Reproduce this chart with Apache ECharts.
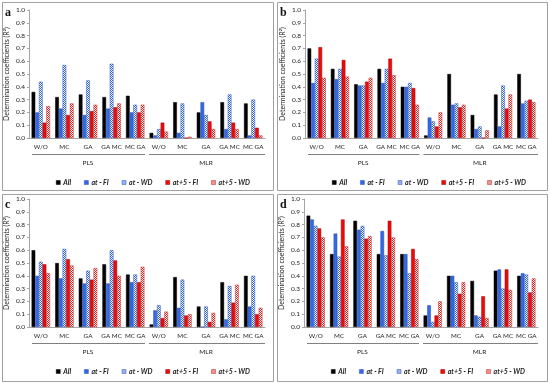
<!DOCTYPE html>
<html>
<head>
<meta charset="utf-8">
<script src="https://cdn.jsdelivr.net/npm/echarts@6/dist/echarts.min.js"></script>
<style>html,body{margin:0;padding:0;background:#fff}#c{width:550px;height:383px}</style>
</head>
<body>
<div id="c"></div>
<script>
// ---- data ----
const categories = ['W/O','MC','GA','GA MC','MC GA','W/O','MC','GA','GA MC','MC GA'];
const groups = ['PLS','MLR'];
const seriesNames = ['All','at - FI','at - WD','at+5 - FI','at+5 - WD'];
const panelLetters = ['a','b','c','d'];
const yTicks = [0,0.1,0.2,0.3,0.4,0.5,0.6,0.7,0.8,0.9,1.0];

const a_all  = [0.36,0.32,0.34,0.32,0.33, 0.04,0.28,0.20,0.28,0.27];
const a_fi   = [0.20,0.23,0.18,0.23,0.20, 0.02,0.04,0.28,0.07,0.02];
const a_wd   = [0.44,0.57,0.45,0.58,0.26, 0.07,0.27,0.18,0.34,0.30];
const a_5fi  = [0.12,0.18,0.21,0.24,0.20, 0.12,0.00,0.13,0.12,0.08];
const a_5wd  = [0.25,0.27,0.26,0.27,0.26, 0.05,0.01,0.07,0.07,0.02];

const b_all  = [0.70,0.54,0.42,0.54,0.40, 0.02,0.50,0.18,0.34,0.50];
const b_fi   = [0.43,0.46,0.41,0.43,0.40, 0.16,0.26,0.07,0.09,0.27];
const b_wd   = [0.62,0.54,0.41,0.54,0.43, 0.13,0.27,0.09,0.41,0.29];
const b_5fi  = [0.71,0.61,0.44,0.62,0.39, 0.09,0.24,0.00,0.23,0.30];
const b_5wd  = [0.47,0.48,0.47,0.49,0.26, 0.20,0.26,0.06,0.34,0.28];

const c_all  = [0.60,0.50,0.38,0.49,0.41, 0.02,0.39,0.16,0.35,0.40];
const c_fi   = [0.40,0.38,0.34,0.34,0.35, 0.13,0.15,0.00,0.06,0.16];
const c_wd   = [0.51,0.61,0.44,0.60,0.41, 0.17,0.37,0.16,0.32,0.40];
const c_5fi  = [0.49,0.53,0.37,0.52,0.35, 0.07,0.09,0.04,0.19,0.10];
const c_5wd  = [0.42,0.48,0.46,0.40,0.47, 0.12,0.10,0.11,0.33,0.15];

const d_all  = [0.87,0.57,0.83,0.57,0.57, 0.09,0.40,0.36,0.44,0.40];
const d_fi   = [0.84,0.73,0.76,0.75,0.57, 0.17,0.40,0.09,0.45,0.42];
const d_wd   = [0.79,0.55,0.79,0.56,0.42, 0.04,0.35,0.08,0.30,0.41];
const d_5fi  = [0.77,0.84,0.69,0.83,0.61, 0.09,0.26,0.24,0.45,0.27];
const d_5wd  = [0.70,0.63,0.71,0.70,0.53, 0.20,0.35,0.07,0.29,0.38];

const panelData = [
  [a_all,a_fi,a_wd,a_5fi,a_5wd],
  [b_all,b_fi,b_wd,b_5fi,b_5wd],
  [c_all,c_fi,c_wd,c_5fi,c_5wd],
  [d_all,d_fi,d_wd,d_5fi,d_5wd]
];

// ---- styling / layout ----
function checker(c){
  const cv=document.createElement('canvas'); cv.width=2; cv.height=2;
  const x=cv.getContext('2d');
  x.fillStyle='#ffffff'; x.fillRect(0,0,2,2);
  x.fillStyle=c; x.fillRect(0,0,1,1); x.fillRect(1,1,1,1);
  return {image:cv, repeat:'repeat'};
}
const BLUE='#3368e6', RED='#ee0a0a';
const BLUEH=checker('#2f62d8'), REDH=checker('#e81e1e');
const styles = [
  {color:'#000000', borderColor:'#000000'},
  {color:BLUE, borderColor:'#2a4fb0'},
  {color:BLUEH, borderColor:'#2f58c0'},
  {color:RED, borderColor:'#a00000'},
  {color:REDH, borderColor:'#c82828'}
];

const panels = [
  {box:[2,2,271,188],   grid:{left:29,  top:10,  width:236, height:128}, letter:[5,7]},
  {box:[277,2,270,188], grid:{left:305, top:10,  width:233, height:128}, letter:[280,7]},
  {box:[2,194,271,187], grid:{left:29,  top:199, width:236, height:128}, letter:[5,199]},
  {box:[277,194,270,187],grid:{left:304,top:199, width:234, height:128}, letter:[280,199]}
];

const FONT = 'Lato, "Liberation Sans", sans-serif';
const grids=[], xAxes=[], yAxes=[], series=[], legends=[], graphics=[];

panels.forEach((p,i)=>{
  const g=p.grid;
  grids.push({left:g.left, top:g.top, width:g.width, height:g.height, containLabel:false});
  xAxes.push({
    type:'category', gridIndex:i, data:categories,
    axisLine:{lineStyle:{color:'#a6a6a6', width:1}},
    axisTick:{show:false},
    axisLabel:{fontSize:6.3, color:'#222', margin:6, fontFamily:FONT, interval:0}
  });
  xAxes.push({
    type:'category', gridIndex:i, data:groups, position:'bottom', offset:19,
    axisLine:{show:false}, axisTick:{show:false},
    axisLabel:{fontSize:6.5, color:'#222', margin:2, fontFamily:FONT}
  });
  yAxes.push({
    type:'value', gridIndex:i, min:0, max:1, interval:0.1,
    splitLine:{show:false},
    axisLine:{show:true, lineStyle:{color:'#a6a6a6'}},
    axisTick:{show:true, length:2, lineStyle:{color:'#a6a6a6'}},
    axisLabel:{fontSize:6.5, color:'#222', margin:4, fontFamily:FONT,
      formatter:v=>yTicks.indexOf(Math.round(v*10)/10)>=0 ? v.toFixed(1) : ''},
    name:'Determination coefficients (R²)', nameLocation:'middle', nameGap:19,
    nameTextStyle:{fontSize:7, color:'#222', fontFamily:FONT}
  });
  seriesNames.forEach((n,k)=>{
    series.push({
      name:n, type:'bar', xAxisIndex:i*2, yAxisIndex:i,
      data:panelData[i][k],
      barGap:'0%', barCategoryGap:'22%',
      itemStyle:{color:styles[k].color, borderColor:styles[k].borderColor, borderWidth:0.5},
      emphasis:{disabled:true},
      animation:false
    });
  });
  legends.push({
    data:seriesNames.map((n,k)=>({name:n, icon:'rect', itemStyle:{color:styles[k].color, borderColor:styles[k].borderColor, borderWidth:0.5}})),
    left:g.left+22, top:g.top+g.height+36, width:260, orient:'horizontal',
    itemWidth:4, itemHeight:4, itemGap:13,
    textStyle:{fontSize:7, fontStyle:'italic', fontWeight:'bold', color:'#222', fontFamily:FONT, padding:[0,0,0,-2]},
    selectedMode:false
  });
  graphics.push({type:'rect', shape:{x:p.box[0]+0.5, y:p.box[1]+0.5, width:p.box[2], height:p.box[3]},
    style:{fill:null, stroke:'#a0a0a0', lineWidth:1}, silent:true});
  graphics.push({type:'text', left:p.letter[0], top:p.letter[1],
    style:{text:panelLetters[i], font:'bold 12px "Liberation Serif", "DejaVu Serif", serif', fill:'#111'}});
  const yLine = g.top+g.height+16.5;
  const half = g.width/2;
  graphics.push({type:'line', shape:{x1:g.left+3, y1:yLine, x2:g.left+half-2, y2:yLine},
    style:{stroke:'#808080', lineWidth:1}, silent:true});
  graphics.push({type:'line', shape:{x1:g.left+half+2, y1:yLine, x2:g.left+g.width, y2:yLine},
    style:{stroke:'#808080', lineWidth:1}, silent:true});
});

const chart = echarts.init(document.getElementById('c'), null, {renderer:'canvas'});
chart.setOption({
  animation:false,
  backgroundColor:'#ffffff',
  textStyle:{fontFamily:FONT},
  grid:grids, xAxis:xAxes, yAxis:yAxes, series:series, legend:legends,
  graphic:graphics
});
</script>
</body>
</html>
